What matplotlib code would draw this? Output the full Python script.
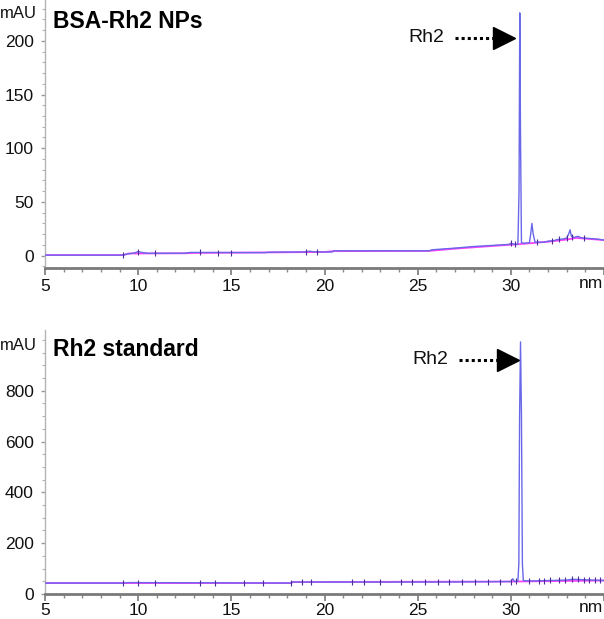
import matplotlib
matplotlib.use("Agg")
import matplotlib.pyplot as plt
from matplotlib.ticker import MultipleLocator, FixedLocator
import numpy as np

plt.rcParams['font.family'] = ['Liberation Sans', 'DejaVu Sans']

# ---------------- data ----------------
# Top panel: BSA-Rh2 NPs (time in min, absorbance in mAU)
top_t = [5.0, 9.2, 9.4, 9.8, 10.0, 10.2, 10.5, 12.5, 12.8, 16.8, 17.0, 19.0, 19.2, 19.4,
         20.4, 20.5, 25.6, 25.8, 27.0, 28.0, 29.0, 29.9, 30.0, 30.2, 30.38, 30.44, 30.48,
         30.52, 30.57, 30.7, 31.0, 31.08, 31.13, 31.2, 31.3, 31.8, 32.0, 32.3, 32.5, 32.8,
         33.0, 33.1, 33.18, 33.25, 33.4, 33.6, 33.8, 34.2, 34.6, 35.0]
top_v = [0.5, 0.5, 1.5, 2.5, 3.8, 3.0, 2.2, 2.2, 3.0, 2.8, 3.2, 3.5, 4.2, 3.5,
         3.4, 4.5, 4.5, 5.5, 7.0, 8.5, 9.5, 10.5, 11.5, 10.5, 10.5, 60.0, 226.0,
         110.0, 12.0, 11.5, 12.0, 22.0, 30.0, 20.0, 12.5, 12.5, 13.5, 14.0, 15.0, 15.5,
         16.5, 20.0, 24.0, 18.0, 17.0, 18.0, 16.5, 16.0, 15.5, 14.5]
top_base_t = [5.0, 9.2, 9.5, 12.5, 13.0, 20.0, 20.5, 25.6, 27.0, 29.0, 30.3, 31.0, 32.0,
              33.0, 33.5, 35.0]
top_base_v = [0.5, 0.5, 2.0, 2.2, 2.5, 3.4, 4.2, 4.4, 6.5, 9.0, 10.5, 11.5, 13.0,
              15.0, 16.5, 14.5]
top_marks = [9.2, 10.0, 10.9, 13.3, 14.3, 15.0, 19.0, 19.6, 30.0, 30.2, 31.4, 32.2, 32.6,
             33.0, 33.3, 33.9]

# Bottom panel: Rh2 standard
bot_t = [5.0, 9.2, 9.5, 18.2, 18.3, 26.0, 30.0, 30.1, 30.2, 30.38, 30.43, 30.47, 30.52,
         30.57, 30.62, 30.67, 31.0, 33.0, 33.3, 35.0]
bot_v = [43.0, 43.0, 45.0, 43.0, 47.0, 47.0, 49.0, 60.0, 49.0, 51.0, 120.0, 700.0, 992.0,
         700.0, 120.0, 53.0, 51.0, 55.0, 58.0, 53.0]
bot_base_t = [5.0, 18.2, 18.3, 30.0, 35.0]
bot_base_v = [43.0, 43.0, 47.0, 49.0, 53.0]
bot_marks = [9.2, 10.0, 10.9, 13.3, 14.1, 15.7, 16.7, 18.2, 18.8, 19.3, 21.5, 22.1, 23.0,
             24.1, 24.7, 25.4, 26.1, 26.7, 27.4, 28.1, 28.8, 29.4, 30.0, 30.3, 31.0, 31.5,
             31.8, 32.1, 32.6, 32.9, 33.3, 33.6, 33.9, 34.2, 34.5, 34.8]

x_ticks = [5, 10, 15, 20, 25, 30]
top_yticks = [0, 50, 100, 150, 200]
bot_yticks = [0, 200, 400, 600, 800]

peak_label = "Rh2"
titles = ["BSA-Rh2 NPs", "Rh2 standard"]

# ---------------- layout ----------------
W, H = 604, 619
fig = plt.figure(figsize=(W / 100, H / 100), dpi=100)

def px_axes(left, top, right, bottom):
    return fig.add_axes([left / W, 1 - bottom / H, (right - left) / W, (bottom - top) / H])

ax1 = px_axes(45, 0, 604, 268)
ax2 = px_axes(45, 330, 604, 594)

blue = '#6868e8'
mag = '#ff40ff'
mark_c = '#4b2c9a'

def style(ax, yticks, yminor, ylim, xpad):
    ax.set_xlim(5, 35)
    ax.set_ylim(*ylim)
    for s in ['top', 'right']:
        ax.spines[s].set_visible(False)
    ax.spines['left'].set_color('#b4b4b4')
    ax.spines['left'].set_linewidth(1.0)
    ax.spines['bottom'].set_color('#7a7a7a')
    ax.spines['bottom'].set_linewidth(2.0)
    ax.xaxis.set_major_locator(FixedLocator(x_ticks + [35]))
    ax.set_xticklabels([str(v) for v in x_ticks] + [''])
    ax.xaxis.set_minor_locator(MultipleLocator(1))
    ax.yaxis.set_major_locator(FixedLocator(yticks))
    ax.set_yticklabels([str(v) for v in yticks])
    ax.yaxis.set_minor_locator(MultipleLocator(yminor))
    ax.tick_params(axis='x', which='major', length=5, width=1.2, color='#7a7a7a',
                   labelsize=12.5, pad=xpad, labelcolor='#111111')
    ax.tick_params(axis='x', which='minor', length=3, width=1.0, color='#8a8a8a')
    ax.tick_params(axis='y', which='major', length=3, width=1.0, color='#9a9a9a',
                   labelsize=12.5, pad=5, labelcolor='#111111')
    ax.tick_params(axis='y', which='minor', length=2, width=0.8, color='#b0b0b0')
    ax.set_facecolor('none')

style(ax1, top_yticks, 10, (-11.5, 238), 3)
style(ax2, bot_yticks, 50, (0, 1039), 1.5)

# traces
for ax, bt, bv, t, v, marks in [(ax1, top_base_t, top_base_v, top_t, top_v, top_marks),
                                (ax2, bot_base_t, bot_base_v, bot_t, bot_v, bot_marks)]:
    ax.plot(bt, bv, color=mag, lw=1.3, zorder=2)
    ax.plot(t, v, color=blue, lw=1.0, zorder=3)
    mv = np.interp(marks, t, v)
    ax.plot(marks, mv, linestyle='none', marker='|', markersize=5, color=mark_c,
            markeredgewidth=0.8, zorder=4)

# titles and labels
fig.text(53 / W, 1 - 21 / H, titles[0], fontsize=16.5, fontweight='bold', ha='left', va='center')
fig.text(53 / W, 1 - 350 / H, titles[1], fontsize=16.5, fontweight='bold', ha='left', va='center')
fig.text(37 / W, 1 - 14 / H, 'mAU', fontsize=12, ha='right', va='center', color='#111111')
fig.text(37 / W, 1 - 345 / H, 'mAU', fontsize=12, ha='right', va='center', color='#111111')
fig.text(591 / W, 1 - 284 / H, 'nm', fontsize=12.5, ha='center', va='center', color='#111111')
fig.text(591 / W, 1 - 608 / H, 'nm', fontsize=12.5, ha='center', va='center', color='#111111')

# annotations (positions in data coords of each panel)
def arrow(ax, tx, ty, x0, xbase, xtip):
    ax.text(tx, ty, peak_label, fontsize=14, ha='center', va='center', color='#111111')
    ax.plot([x0, xbase], [ty, ty], color='k', lw=2.2, linestyle=(0, (1, 1)), zorder=5)
    ax.plot([(xbase + xtip) / 2], [ty], marker='>', markersize=16, color='k', zorder=5)

arrow(ax1, 25.49, 203, 27.0, 29.2, 30.05)
arrow(ax2, 25.68, 922, 27.2, 29.4, 30.3)

fig.savefig('out.png', dpi=100)
